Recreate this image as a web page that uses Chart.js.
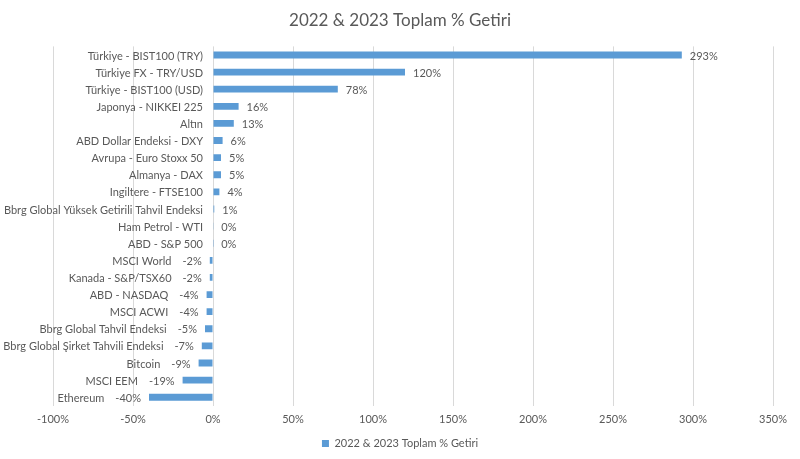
<!DOCTYPE html>
<html>
<head>
<meta charset="utf-8">
<script src="https://cdn.jsdelivr.net/npm/chart.js@4/dist/chart.umd.min.js"></script>
<style>
  html, body { margin: 0; padding: 0; background: #fff; }
  #wrap { width: 800px; height: 459px; }
</style>
</head>
<body>
<div id="wrap"><canvas id="chart" width="800" height="459"></canvas></div>
<script>
const categories = [
  'Türkiye - BIST100 (TRY)', 'Türkiye FX - TRY/USD', 'Türkiye - BIST100 (USD)',
  'Japonya - NIKKEI 225', 'Altın', 'ABD Dollar Endeksi - DXY', 'Avrupa - Euro Stoxx 50',
  'Almanya - DAX', 'Ingiltere - FTSE100', 'Bbrg Global Yüksek Getirili Tahvil Endeksi',
  'Ham Petrol - WTI', 'ABD - S&P 500', 'MSCI World', 'Kanada - S&P/TSX60',
  'ABD - NASDAQ', 'MSCI ACWI', 'Bbrg Global Tahvil Endeksi',
  'Bbrg Global Şirket Tahvili Endeksi', 'Bitcoin', 'MSCI EEM', 'Ethereum'
];
const returns = [293, 120, 78, 16, 13, 6, 5, 5, 4, 0.8, 0.2, 0.1, -2, -2, -4, -4, -5, -7, -9, -19, -40];
const seriesName = '2022 & 2023 Toplam % Getiri';
const xTicks = [-100, -50, 0, 50, 100, 150, 200, 250, 300, 350];

const FONT = 'Lato, "Open Sans", sans-serif';
const GREY = '#595959';
const BLUE = '#5B9BD5';

// category names + value labels drawn next to each bar
const barLabels = {
  id: 'barLabels',
  afterDatasetsDraw(chart) {
    const ctx = chart.ctx;
    const x = chart.scales.x;
    const zero = x.getPixelForValue(0);
    const meta = chart.getDatasetMeta(0);
    ctx.save();
    ctx.font = '11px ' + FONT;
    ctx.fillStyle = GREY;
    ctx.textBaseline = 'middle';
    meta.data.forEach((bar, i) => {
      const v = returns[i];
      const txt = Math.round(v) + '%';
      const y = bar.y + 1;
      if (v >= 0) {
        ctx.textAlign = 'left';
        ctx.fillText(txt, bar.x + 8, y);
        ctx.textAlign = 'right';
        ctx.fillText(categories[i], zero - 10, y);
      } else {
        ctx.textAlign = 'right';
        ctx.fillText(txt, bar.x - 8, y);
        const w = ctx.measureText(txt).width;
        ctx.fillText(categories[i], bar.x - 8 - w - 11, y);
      }
    });
    ctx.restore();
  }
};

new Chart(document.getElementById('chart'), {
  type: 'bar',
  data: {
    labels: categories,
    datasets: [{
      label: seriesName,
      data: returns,
      backgroundColor: BLUE,
      borderWidth: 0,
      barPercentage: 0.8,
      categoryPercentage: 0.5
    }]
  },
  options: {
    indexAxis: 'y',
    responsive: false,
    animation: false,
    layout: { padding: 0 },
    scales: {
      x: {
        min: -100,
        max: 350,
        afterBuildTicks: (s) => { s.ticks = xTicks.map(v => ({ value: v })); },
        afterFit: (s) => { s.height -= 5; s.paddingRight = 27; },
        grid: { color: '#d9d9d9', drawTicks: false },
        border: { display: false },
        ticks: {
          padding: 7,
          color: GREY,
          font: { family: FONT, size: 11 },
          callback: (v) => v + '%'
        }
      },
      y: {
        grid: { display: false },
        border: { display: false },
        ticks: { display: false },
        afterFit: (s) => { s.width = 53; }
      }
    },
    plugins: {
      title: {
        display: true,
        text: seriesName,
        color: GREY,
        font: { family: FONT, size: 17, weight: 'normal' },
        padding: { top: 10, bottom: 16 }
      },
      legend: {
        position: 'bottom',
        labels: {
          boxWidth: 7,
          boxHeight: 7,
          color: GREY,
          font: { family: FONT, size: 11 },
          padding: 10
        }
      },
      tooltip: { enabled: false }
    }
  },
  plugins: [barLabels]
});
</script>
</body>
</html>
